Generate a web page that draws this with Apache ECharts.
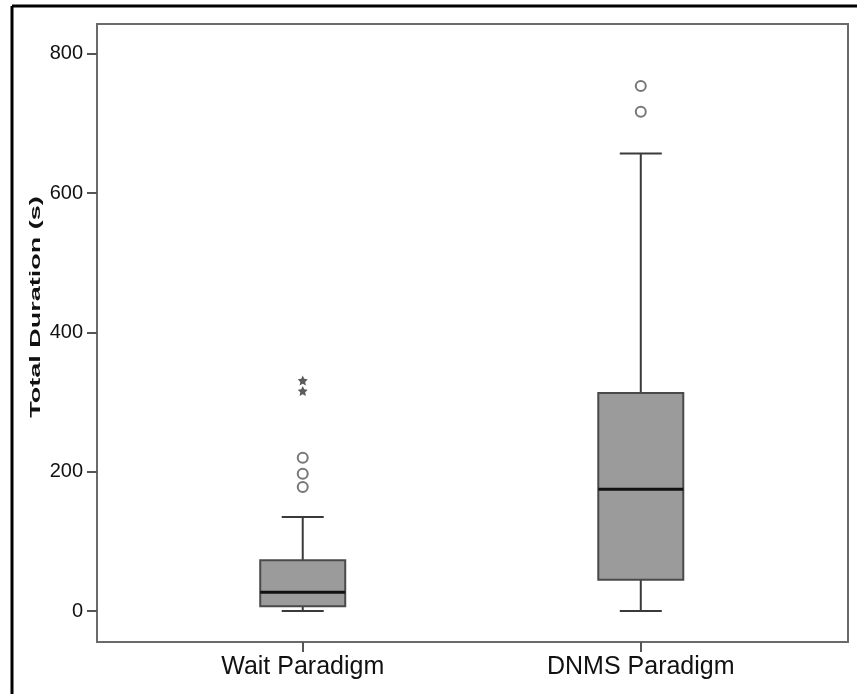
<!DOCTYPE html>
<html lang="en">

<head>
    <meta charset="UTF-8">
    <style>
    html,
    body {
        height: 100%;
        margin: 0;
        background: #fff;
    }
  </style>
</head>

<body>
<div id="chart" style="width:857px;height:694px;"></div>
<script src="https://cdn.jsdelivr.net/npm/echarts@6/dist/echarts.min.js"></script>
<script>
    // groups on the x axis (0 and 1)
    var categories = ['Wait Paradigm', 'DNMS Paradigm'];
    // [min whisker, Q1, median, Q3, max whisker]
    var waitBox = [0, 7, 27, 73, 135];
    var dnmsBox = [0, 45, 175, 313, 657];
    // outliers as [group, value]
    var circleOutliers = [[0, 220], [0, 197], [0, 178], [1, 754], [1, 717]];
    var starOutliers = [[0, 331], [0, 316]];
    var yTicks = [0, 200, 400, 600, 800];

    var boxData = [[0].concat(waitBox), [1].concat(dnmsBox)];

    var font = '"Liberation Sans", Arial, sans-serif';
    var starPath = 'path://M0,-10L2.9,-4L9.5,-3.1L4.7,1.5L5.9,8.1L0,5L-5.9,8.1L-4.7,1.5L-9.5,-3.1L-2.9,-4Z';

    function renderBox(params, api) {
        var x = api.value(0);
        var pMin = api.coord([x, api.value(1)]);
        var pQ1 = api.coord([x, api.value(2)]);
        var pMed = api.coord([x, api.value(3)]);
        var pQ3 = api.coord([x, api.value(4)]);
        var pMax = api.coord([x, api.value(5)]);
        var cx = pMed[0];
        var half = 42.5;
        var cap = 21;
        var lineStyle = { stroke: '#3a3a3a', lineWidth: 2 };
        return {
            type: 'group',
            children: [
                { type: 'line', shape: { x1: cx, y1: pMin[1], x2: cx, y2: pQ1[1] }, style: lineStyle },
                { type: 'line', shape: { x1: cx, y1: pQ3[1], x2: cx, y2: pMax[1] }, style: lineStyle },
                { type: 'line', shape: { x1: cx - cap, y1: pMin[1], x2: cx + cap, y2: pMin[1] }, style: lineStyle },
                { type: 'line', shape: { x1: cx - cap, y1: pMax[1], x2: cx + cap, y2: pMax[1] }, style: lineStyle },
                {
                    type: 'rect',
                    shape: { x: cx - half, y: pQ3[1], width: half * 2, height: pQ1[1] - pQ3[1] },
                    style: { fill: '#9b9b9b', stroke: '#4a4a4a', lineWidth: 2 }
                },
                { type: 'line', shape: { x1: cx - half, y1: pMed[1], x2: cx + half, y2: pMed[1] }, style: { stroke: '#111', lineWidth: 3 } }
            ]
        };
    }

    var myChart = echarts.init(document.getElementById('chart'));
    myChart.setOption({
        animation: false,
        backgroundColor: '#fff',
        grid: {
            left: 97,
            right: 9,
            top: 24,
            bottom: 52,
            show: true,
            borderColor: '#6a6a6a',
            borderWidth: 2
        },
        xAxis: {
            type: 'value',
            min: -0.6086,
            max: 1.613,
            splitLine: { show: false },
            axisLine: { show: false, onZero: false },
            axisTick: {
                show: true,
                customValues: [0, 1],
                length: 10,
                lineStyle: { color: '#555', width: 2 }
            },
            axisLabel: {
                customValues: [0, 1],
                formatter: function (v) { return categories[Math.round(v)]; },
                margin: 13,
                fontSize: 25,
                fontFamily: font,
                color: '#111'
            }
        },
        yAxis: {
            type: 'value',
            min: -44.5,
            max: 843,
            splitLine: { show: false },
            axisLine: { show: false, onZero: false },
            axisTick: {
                show: true,
                customValues: yTicks,
                length: 10,
                lineStyle: { color: '#555', width: 2 }
            },
            axisLabel: {
                customValues: yTicks,
                margin: 14,
                fontSize: 20,
                fontFamily: font,
                color: '#111'
            }
        },
        graphic: [
            { type: 'line', shape: { x1: 12, y1: 6, x2: 857, y2: 6 }, style: { stroke: '#000', lineWidth: 3 } },
            { type: 'line', shape: { x1: 12, y1: 6, x2: 12, y2: 694 }, style: { stroke: '#000', lineWidth: 3 } },
            {
                type: 'text',
                x: 36,
                y: 307,
                rotation: Math.PI / 2,
                scaleX: 1.8,
                style: {
                    text: 'Total Duration (s)',
                    font: 'bold 15px ' + font,
                    fill: '#111',
                    textAlign: 'center',
                    textVerticalAlign: 'middle'
                }
            }
        ],
        series: [
            {
                type: 'custom',
                renderItem: renderBox,
                encode: { x: 0, y: [1, 2, 3, 4, 5] },
                data: boxData
            },
            {
                type: 'scatter',
                symbol: 'circle',
                symbolSize: 10,
                itemStyle: { color: '#fff', borderColor: '#555', borderWidth: 2 },
                data: circleOutliers
            },
            {
                type: 'scatter',
                symbol: starPath,
                symbolSize: 10,
                itemStyle: { color: '#333' },
                data: starOutliers
            }
        ]
    });
</script>
</body>
</html>
